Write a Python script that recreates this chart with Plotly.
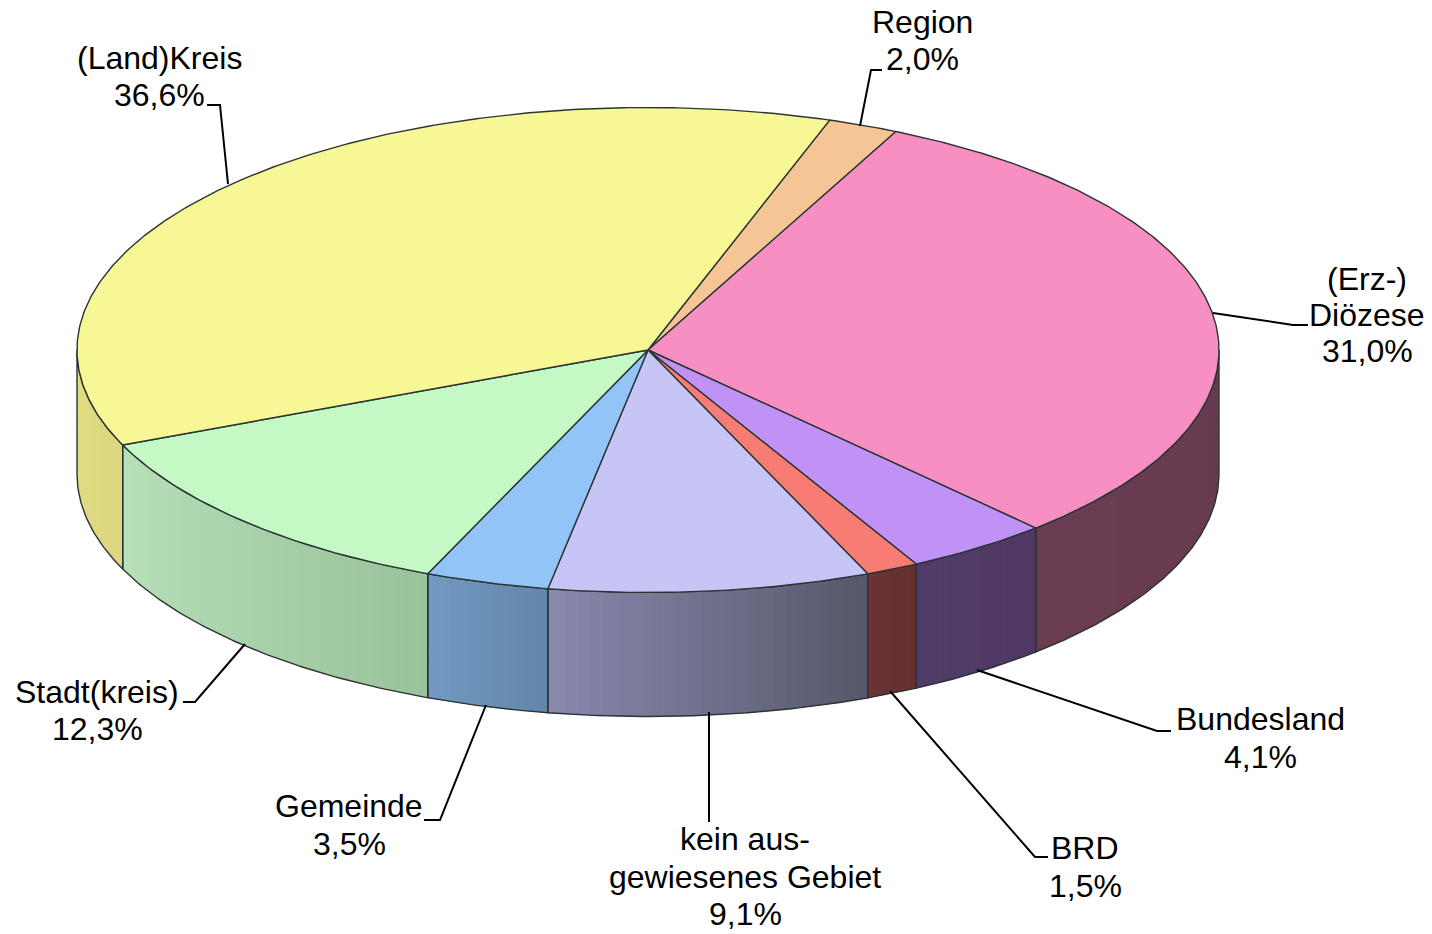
import math
import plotly.graph_objects as go

# ---- data ----
categories = ["Region", "(Erz-)Diözese", "Bundesland", "BRD", "kein ausgewiesenes Gebiet",
              "Gemeinde", "Stadt(kreis)", "(Land)Kreis"]
values = [2.0, 31.0, 4.1, 1.5, 9.1, 3.5, 12.3, 36.6]
label_lines = [["Region"], ["(Erz-)", "Diözese"], ["Bundesland"], ["BRD"],
               ["kein aus-", "gewiesenes Gebiet"], ["Gemeinde"], ["Stadt(kreis)"], ["(Land)Kreis"]]

# ---- styles ----
top_colors = ["#f6c596", "#f78fc2", "#c192f6", "#f97c74", "#c7c5f6", "#93c4f7", "#c4f8c4", "#f7f795"]
wall_left = ["#f0c090", "#6a3c52", "#513b68", "#6b3333", "#8a88ae", "#7299c2", "#b9e1b9", "#e2dc84"]
wall_right = ["#f0c090", "#663a4e", "#4f3963", "#663030", "#555769", "#6387a9", "#9bc39b", "#dcd680"]
EDGE = "#2a3434"
TEXT_SIZE = 32
FONT = "Liberation Sans, Arial, sans-serif"

# ---- projection of the tilted disc onto the page ----
CX, CY, RX, RY, DEPTH = 648.0, 350.0, 571.0, 242.5, 124.0
START_DEG = 18.55


def px(a):
    return CX + RX * math.sin(math.radians(a))


def py(a, drop=0.0):
    return CY - RY * math.cos(math.radians(a)) + drop


def arc(a, b, drop=0.0, step=0.5):
    n = max(2, int(abs(b - a) / step) + 1)
    angs = [a + (b - a) * i / (n - 1) for i in range(n)]
    return [px(t) for t in angs], [py(t, drop) for t in angs]


def hex_rgb(h):
    return tuple(int(h[i:i + 2], 16) for i in (1, 3, 5))


def mix(c1, c2, t):
    a, b = hex_rgb(c1), hex_rgb(c2)
    return "rgb(%d,%d,%d)" % tuple(round(a[i] + (b[i] - a[i]) * t) for i in range(3))


total = sum(values)
bounds = [START_DEG]
for v in values:
    bounds.append(bounds[-1] + v / total * 360.0)

fig = go.Figure()

# walls: only the part of each slice that faces the viewer (90..270 degrees)
wall_ranges = []
for i, cat in enumerate(categories):
    a = max(bounds[i], 90.0)
    b = min(bounds[i + 1], 270.0)
    if a >= b:
        continue
    wall_ranges.append((a, b))
    x0, x1 = px(a), px(b)
    n = max(1, int(abs(x1 - x0) / 6))
    for k in range(n):
        s0 = a + (b - a) * k / n
        s1 = a + (b - a) * min(1.0, (k + 1.6) / n)
        t = 1 - (k + 0.5) / n  # left end of the slice's wall is t=0
        xa, ya = arc(s0, s1)
        xb, yb = arc(s1, s0, DEPTH)
        fig.add_trace(go.Scatter(x=xa + xb, y=ya + yb, mode="lines", fill="toself",
                                 fillcolor=mix(wall_left[i], wall_right[i], t),
                                 line=dict(width=0), hoverinfo="skip", showlegend=False))

# wall outlines
for a, b in wall_ranges:
    xa, ya = arc(a, b)
    xb, yb = arc(b, a, DEPTH)
    fig.add_trace(go.Scatter(x=xa + xb + [xa[0]], y=ya + yb + [ya[0]], mode="lines",
                             line=dict(color=EDGE, width=1.4), hoverinfo="skip", showlegend=False))

# top faces
for i, cat in enumerate(categories):
    xa, ya = arc(bounds[i], bounds[i + 1])
    fig.add_trace(go.Scatter(x=[CX] + xa + [CX], y=[CY] + ya + [CY], mode="lines", fill="toself",
                             fillcolor=top_colors[i], line=dict(color=EDGE, width=1.4),
                             name=cat, text=f"{cat}: {values[i]}%", hoverinfo="text", showlegend=False))

# ---- leader lines and labels (page layout, in pixels) ----
leaders = [
    ([882, 871, 860], [70, 70, 126]),
    ([1308, 1293, 1213], [325, 325, 313]),
    ([1171, 1157, 977], [731, 731, 670]),
    ([1048, 1035, 890], [857, 857, 691]),
    ([709, 709], [822, 712]),
    ([424, 440, 486], [820, 820, 705]),
    ([183, 195, 245], [702, 702, 644]),
    ([207, 220, 228], [105, 105, 184]),
]
for lx, ly in leaders:
    fig.add_trace(go.Scatter(x=lx, y=ly, mode="lines", line=dict(color="#000000", width=2),
                             hoverinfo="skip", showlegend=False))

label_x = [922, 1367, 1260, 1085, 745, 349, 97, 159]
label_top_y = [22, 279, 719, 848, 839, 806, 692, 58]
label_gap = [37, 36, 38, 38, 37.5, 38, 37, 37]
annotations = []
for i, lines in enumerate(label_lines):
    pct = f"{values[i]:.1f}%".replace(".", ",")
    for j, txt in enumerate(lines + [pct]):
        annotations.append(dict(x=label_x[i], y=label_top_y[i] + j * label_gap[i], text=txt,
                                showarrow=False, xanchor="center", yanchor="middle",
                                font=dict(family=FONT, size=TEXT_SIZE, color="#000000")))

fig.update_layout(
    width=1432, height=934, margin=dict(l=0, r=0, t=0, b=0),
    paper_bgcolor="#ffffff", plot_bgcolor="#ffffff", showlegend=False,
    xaxis=dict(range=[0, 1432], visible=False, fixedrange=True),
    yaxis=dict(range=[934, 0], visible=False, fixedrange=True),
    annotations=annotations,
)
fig.write_html("out.html", post_script="document.body.style.margin='0';document.body.style.overflow='hidden';",
               config={"displayModeBar": False})
